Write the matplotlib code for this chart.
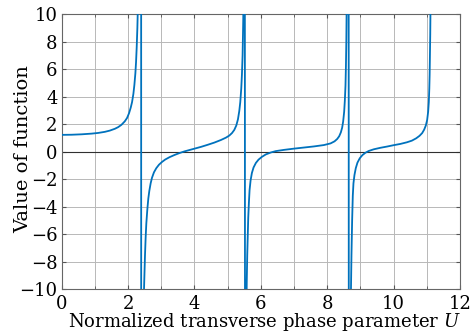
import matplotlib
matplotlib.use("Agg")
import matplotlib.pyplot as plt
import numpy as np

# Data (U, function value); points beyond +-10 only shape the jumps at the poles
u_branch1 = [0.0, 0.3, 0.6, 0.9, 1.1, 1.3, 1.45, 1.6, 1.7, 1.8, 1.9, 1.97, 2.03, 2.08, 2.12, 2.16, 2.19,
             2.22, 2.24, 2.26, 2.28, 2.30, 2.33, 2.36, 2.38, 2.39]
v_branch1 = [1.22, 1.23, 1.26, 1.31, 1.36, 1.44, 1.53, 1.66, 1.78, 1.95, 2.2, 2.45, 2.8, 3.2, 3.6, 4.2, 4.85,
             5.7, 6.5, 7.6, 9.0, 11, 15, 24, 45, 120]

u_branch2 = [2.40, 2.43, 2.455, 2.47, 2.48, 2.495, 2.51, 2.53, 2.55, 2.58, 2.61, 2.64, 2.68, 2.72, 2.78,
             2.85, 2.93, 3.02, 3.12, 3.25, 3.4, 3.55, 3.7, 3.85, 4.0, 4.2, 4.4, 4.6, 4.8, 4.95, 5.05, 5.13,
             5.2, 5.26, 5.31, 5.35, 5.38, 5.41, 5.43, 5.45, 5.46, 5.47, 5.48, 5.50, 5.51]
v_branch2 = [-150, -40, -16, -12, -10, -8.6, -7.5, -6.2, -5.2, -4.2, -3.4, -2.85, -2.3, -1.9, -1.5,
             -1.2, -0.95, -0.75, -0.57, -0.4, -0.24, -0.1, 0.02, 0.12, 0.22, 0.35, 0.5, 0.66, 0.85, 1.02, 1.17, 1.35,
             1.58, 1.9, 2.35, 2.95, 3.6, 4.6, 5.6, 7.0, 8.2, 9.6, 12, 22, 60]

u_branch3 = [5.53, 5.55, 5.565, 5.575, 5.59, 5.605, 5.62, 5.64, 5.66, 5.69, 5.73, 5.78, 5.85, 5.93, 6.03,
             6.15, 6.3, 6.45, 6.7, 7.0, 7.3, 7.6, 7.9, 8.1, 8.22, 8.3, 8.36, 8.41, 8.45, 8.48, 8.51, 8.53,
             8.55, 8.563, 8.575, 8.585, 8.60, 8.62, 8.64]
v_branch3 = [-60, -18, -12, -9.5, -7.5, -6.0, -4.8, -3.7, -2.8, -2.1, -1.55, -1.15, -0.82, -0.58, -0.38,
             -0.2, -0.06, 0.04, 0.13, 0.22, 0.3, 0.38, 0.48, 0.6, 0.75, 0.92, 1.12, 1.4, 1.75, 2.2, 2.9, 3.7,
             4.8, 6.2, 8.0, 10.5, 14, 22, 60]

u_branch4 = [8.66, 8.68, 8.70, 8.715, 8.73, 8.75, 8.77, 8.79, 8.82, 8.86, 8.91, 8.98, 9.06, 9.15, 9.25,
             9.4, 9.6, 9.8, 10.0, 10.2, 10.4, 10.55, 10.68, 10.78, 10.86, 10.92, 10.97, 11.01, 11.04, 11.06,
             11.075, 11.085, 11.095, 11.103, 11.11, 11.12]
v_branch4 = [-100, -25, -14, -10, -7.5, -5, -3.2, -2.3, -1.7, -1.2, -0.8, -0.48, -0.25, -0.08, 0.05,
             0.17, 0.28, 0.37, 0.47, 0.56, 0.68, 0.8, 0.97, 1.15, 1.35, 1.6, 1.9, 2.3, 2.9, 3.6,
             4.6, 5.6, 7.0, 8.5, 10.2, 13]

x_ticks = [0, 2, 4, 6, 8, 10, 12]
y_ticks = [-10, -8, -6, -4, -2, 0, 2, 4, 6, 8, 10]

u = np.concatenate([u_branch1, u_branch2, u_branch3, u_branch4])
v = np.concatenate([v_branch1, v_branch2, v_branch3, v_branch4])

plt.rcParams["font.family"] = "DejaVu Serif"
plt.rcParams["mathtext.fontset"] = "dejavuserif"

fig = plt.figure(figsize=(4.72, 3.32), dpi=100)
ax = fig.add_axes([0.1307, 0.1286, 0.8439, 0.8292])

ax.axhline(0, color="#303030", lw=0.8, zorder=2)
ax.plot(u, v, color="#0072BD", lw=1.3, zorder=3)

ax.set_xlim(0, 12)
ax.set_ylim(-10, 10)
ax.set_xticks(x_ticks)
ax.set_xticks(np.arange(0, 13, 1), minor=True)
ax.set_yticks(y_ticks)
ax.set_xticklabels([str(t) for t in x_ticks])
ax.set_yticklabels([str(t).replace("-", "\u2212") for t in y_ticks])

ax.grid(True, which="both", axis="x", color="#b8b8b8", lw=0.7)
ax.grid(True, which="major", axis="y", color="#b8b8b8", lw=0.7)
ax.set_axisbelow(True)

ax.tick_params(which="both", direction="in", top=True, right=True, labelsize=13,
               color="#555555", length=3)
ax.tick_params(axis="x", pad=4)
ax.tick_params(axis="y", pad=3)
ax.tick_params(which="minor", length=2)
for s in ax.spines.values():
    s.set_color("#666666")
    s.set_linewidth(0.8)

ax.set_xlabel(r"Normalized transverse phase parameter $U$", fontsize=13)
ax.set_ylabel("Value of function", fontsize=14)
ax.xaxis.set_label_coords(0.51, -0.08)
ax.yaxis.set_label_coords(-0.075, 0.51)

fig.savefig("out.png", dpi=100)
